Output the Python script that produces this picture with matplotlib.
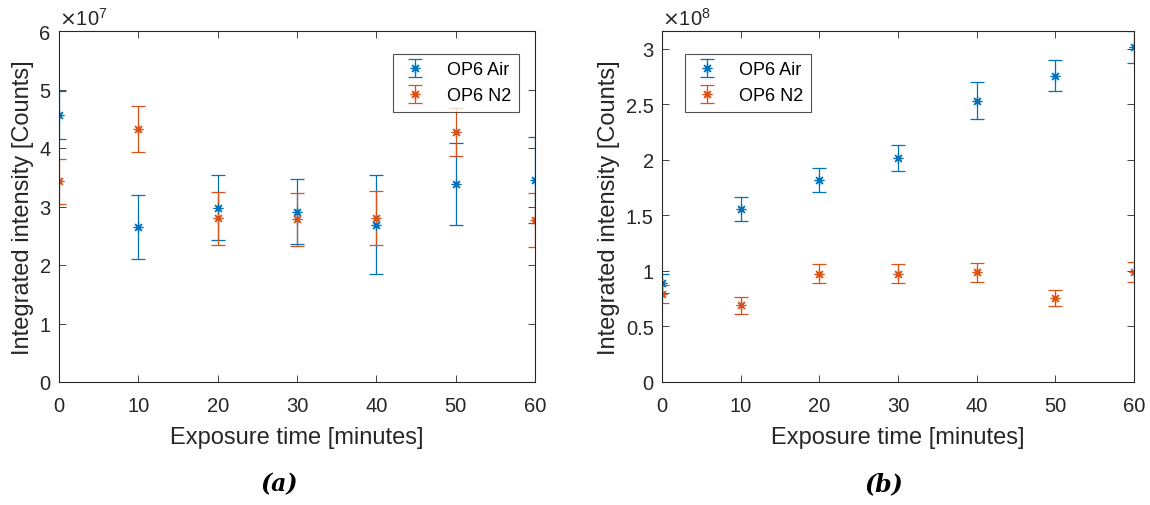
import matplotlib
matplotlib.use("Agg")
import matplotlib.pyplot as plt
from matplotlib.ticker import FuncFormatter, MultipleLocator

plt.rcParams['font.family'] = ['Liberation Sans', 'DejaVu Sans']

# Data
time_min = [0, 10, 20, 30, 40, 50, 60]

# (a) values in counts
a_air = [4.56e7, 2.65e7, 2.98e7, 2.91e7, 2.69e7, 3.39e7, 3.45e7]
a_air_err = [0.41e7, 0.55e7, 0.555e7, 0.555e7, 0.85e7, 0.70e7, 0.74e7]
a_n2 = [3.43e7, 4.32e7, 2.80e7, 2.78e7, 2.80e7, 4.28e7, 2.77e7]
a_n2_err = [0.39e7, 0.39e7, 0.45e7, 0.45e7, 0.46e7, 0.41e7, 0.455e7]

# (b) values in counts
b_air = [0.887e8, 1.557e8, 1.818e8, 2.017e8, 2.534e8, 2.756e8, 3.018e8]
b_air_err = [0.087e8, 0.11e8, 0.11e8, 0.113e8, 0.17e8, 0.14e8, 0.145e8]
b_n2 = [0.79e8, 0.691e8, 0.974e8, 0.974e8, 0.986e8, 0.757e8, 0.986e8]
b_n2_err = [0.08e8, 0.078e8, 0.087e8, 0.087e8, 0.087e8, 0.075e8, 0.09e8]

series_labels = ['OP6 Air', 'OP6 N2']
xlabel = 'Exposure time [minutes]'
ylabel = 'Integrated intensity [Counts]'
panel_labels = ['(a)', '(b)']

BLUE = '#0072BD'
ORANGE = '#D95319'
DARK = '#262626'
MARK = (8, 2, 0)

fig = plt.figure(figsize=(11.5, 5.06), dpi=100)
ax1 = fig.add_axes([59/1150, 1-383/506, 476/1150, 351/506])
ax2 = fig.add_axes([662/1150, 1-383/506, 472/1150, 351/506])


def draw(ax, air, air_err, n2, n2_err, exp, ylim, ystep, legloc):
    scale = 10.0 ** exp
    for vals, errs, col, lab in ((air, air_err, BLUE, series_labels[0]),
                                 (n2, n2_err, ORANGE, series_labels[1])):
        ax.errorbar(time_min, vals, yerr=errs, linestyle='none', marker=MARK,
                    markersize=7, markeredgewidth=0.9, color=col, ecolor=col,
                    elinewidth=0.9, capsize=5, capthick=0.9, label=lab)
    ax.set_xlim(0, 60)
    ax.set_ylim(*ylim)
    ax.xaxis.set_major_locator(MultipleLocator(10))
    ax.yaxis.set_major_locator(MultipleLocator(ystep))
    ax.yaxis.set_major_formatter(FuncFormatter(lambda v, p: '%g' % round(v / scale, 6)))
    ax.tick_params(direction='in', top=True, right=True, length=5, width=0.6,
                   colors=DARK, labelsize=14.5, pad=6)
    ax.tick_params(axis='x', pad=10)
    for s in ax.spines.values():
        s.set_color(DARK)
        s.set_linewidth(0.8)
    ax.set_xlabel(xlabel, fontsize=17, color=DARK, labelpad=8)
    ax.set_ylabel(ylabel, fontsize=17, color=DARK, labelpad=4)
    ax.text(0.0, 1.005, r'$\times\mathdefault{10^{%d}}$' % exp, transform=ax.transAxes,
            ha='left', va='bottom', fontsize=14.5, color=DARK)
    leg = ax.legend(loc=legloc, fontsize=13, frameon=True, fancybox=False,
                    edgecolor=DARK, borderpad=0.4, handlelength=1.6,
                    handletextpad=1.0,
                    bbox_to_anchor=(0.985, 0.96) if legloc == 'upper right' else (0.03, 0.96))
    leg.get_frame().set_linewidth(0.8)


draw(ax1, a_air, a_air_err, a_n2, a_n2_err, 7, (0, 6e7), 1e7, 'upper right')
draw(ax2, b_air, b_air_err, b_n2, b_n2_err, 8, (0, 3.16e8), 0.5e8, 'upper left')

fig.text(279/1150, 1-484/506, panel_labels[0], ha='center', va='center',
         fontsize=17, fontfamily='DejaVu Serif', fontweight='bold', fontstyle='italic')
fig.text(884/1150, 1-484/506, panel_labels[1], ha='center', va='center',
         fontsize=17, fontfamily='DejaVu Serif', fontweight='bold', fontstyle='italic')

fig.savefig('out.png', dpi=100)
